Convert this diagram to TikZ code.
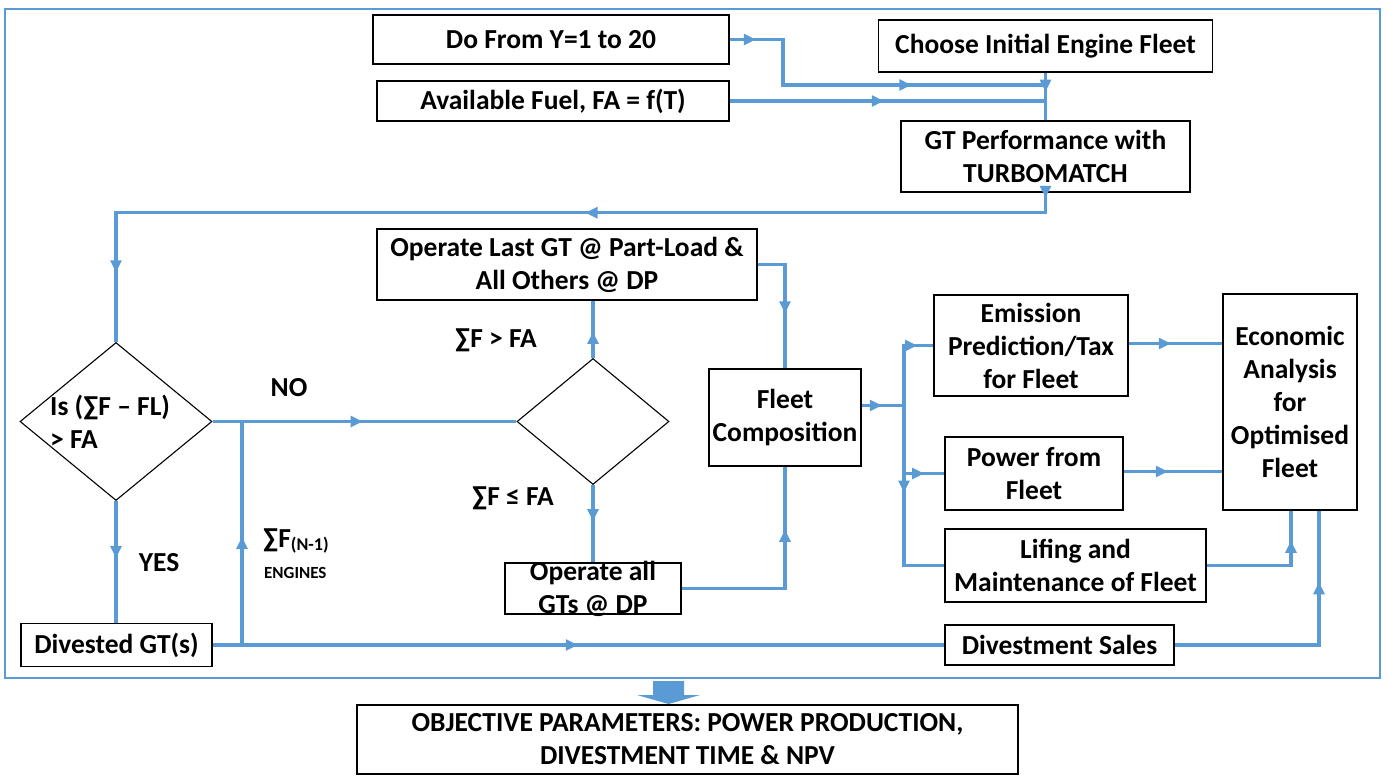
\documentclass[tikz,border=0pt]{standalone}
\usepackage{fontspec}
\setmainfont{Carlito}
\usetikzlibrary{shapes.geometric,arrows.meta,decorations.markings,calc}
\definecolor{lb}{RGB}{91,155,213}
\newcommand\bx{\fontsize{27.5}{33}\selectfont\bfseries}
\begin{document}
\begin{tikzpicture}[x=1pt,y=-1pt,
  box/.style={draw=black,line width=1.5pt,fill=white,align=center,inner sep=0pt,font=\bx},
  dia/.style={diamond,draw=black,line width=1.1pt,inner sep=0pt},
  conn/.style={draw=lb,line width=3.4pt},
  ma/.style={postaction={decorate,decoration={markings,mark=at position #1 with {\arrow[lb]{Triangle[length=12pt,width=11pt]}}}}},
  lbl/.style={font=\bx,inner sep=0pt}]
\path[use as bounding box] (0,0) rectangle (1387,776);
\draw[lb,line width=2pt] (5,9) rectangle (1380,678);

% boxes
\node[box,minimum width=356pt,minimum height=49pt] (A) at (551,39.5) {Do From Y=1 to 20};
\node[box,minimum width=352pt,minimum height=40pt] (B) at (553,101) {Available Fuel, FA = f(T)};
\node[box,minimum width=334pt,minimum height=52pt] (C) at (1045.5,46) {Choose Initial Engine Fleet};
\node[box,minimum width=289pt,minimum height=71pt] (D) at (1045.5,156.5) {GT Performance with\\TURBOMATCH};
\node[dia,minimum width=192pt,minimum height=158pt] (Q1) at (116,421.5) {};
\node[lbl,anchor=west,align=left] (q1t) at (50,421.5) {Is (∑F – FL)\\> FA};
\node[dia,minimum width=152pt,minimum height=126pt] (Q2) at (593,421.5) {};
\node[box,minimum width=380pt,minimum height=71pt] (E) at (567,264.5) {Operate Last GT @ Part-Load \&\\All Others @ DP};
\node[box,minimum width=176pt,minimum height=51pt,label={[lbl,align=center]center:Operate all\\GTs @ DP}] (G) at (593,588.5) {};
\node[box,minimum width=152pt,minimum height=97pt] (F) at (785,417.5) {Fleet\\Composition};
\node[box,minimum width=194pt,minimum height=101pt] (H) at (1031,345.5) {Emission\\Prediction/Tax\\for Fleet};
\node[box,minimum width=178pt,minimum height=73pt] (I) at (1034,473.5) {Power from\\Fleet};
\node[box,minimum width=134pt,minimum height=216pt] (J) at (1290,402) {Economic\\Analysis\\for\\Optimised\\Fleet};
\node[box,minimum width=261pt,minimum height=73pt] (K) at (1075.5,565.5) {Lifing and\\Maintenance of Fleet};
\node[box,minimum width=229pt,minimum height=40pt] (L) at (1059.5,645) {Divestment Sales};
\node[box,minimum width=191pt,minimum height=43pt] (V) at (116.5,645) {Divested GT(s)};
\node[box,minimum width=661pt,minimum height=69pt] (M) at (687.5,739.5) {OBJECTIVE PARAMETERS: POWER PRODUCTION,\\DIVESTMENT TIME \& NPV};

% labels
\node[lbl] (no) at (289,388) {NO};
\node[lbl] (yes) at (159,563) {YES};
\node[lbl,anchor=west] (sf) at (263,541) {∑F\raisebox{-3pt}{\fontsize{18}{20}\selectfont\bfseries(N-1)}};
\node[lbl,anchor=west,font=\fontsize{17}{20}\selectfont\bfseries] (eng) at (264,573) {ENGINES};
\node[lbl] (gt) at (496,340) {∑F > FA};
\node[lbl] (le) at (513,498) {∑F ≤ FA};

% connectors
\coordinate (j1) at (1045.5,85);
\coordinate (j2) at (1045.5,101);
\draw[conn,ma=26pt,ma=227pt] (A.east) -- (783,39.5) -- (783,85) -- (j1);
\draw[conn,ma=154pt] (B.east) -- (j2);
\draw[conn,ma=19pt] (C.south) -- (D.north);
\draw[conn,ma=5pt,ma=480pt,ma=1009pt] (D.south) -- ++(0,20) -| (Q1.north);
\draw[conn,ma=150pt] (Q1.east) -- (Q2.west);
\draw[conn,ma=57pt] (Q1.south) -- (Q1.south |- V.north);
\coordinate (j3) at (242,645);
\coordinate (j4) at (242,421.5);
\draw[conn,ma=365pt] (V.east) -- (L.west);
\draw[conn,ma=108pt] (j3) -- (j4);
\draw[conn,ma=26pt] (Q2.north) -- (Q2.north |- E.south);
\draw[conn,ma=36pt] (Q2.south) -- (G.north);
\draw[conn,ma=76pt] (E.east) -| (F.north);
\draw[conn,ma=162pt] (G.east) -| (F.south);
\coordinate (bj) at (904,405.5);
\draw[conn,ma=20pt] ([yshift=12pt]F.east) -- (bj);
\draw[conn,ma=73pt] (bj) |- (H.west);
\draw[conn,ma=88pt] (bj) |- (I.west);
\draw[conn,ma=87pt] (bj) |- (K.west);
\draw[conn,ma=42pt] ([yshift=2pt]H.east) -- ([yshift=2pt]H.east -| J.west);
\draw[conn,ma=44pt] ([yshift=2pt]I.east) -- ([yshift=2pt]I.east -| J.west);
\draw[conn,ma=109pt] (K.east) -| ([xshift=1pt]J.south);
\draw[conn,ma=207pt] (L.east) -| ([xshift=29pt]J.south);

% block arrow to objectives
\fill[lb] (653,681) -- (684,681) -- (684,695) -- (700,695) -- (668.5,704) -- (637,695) -- (653,695) -- cycle;
\end{tikzpicture}
\end{document}
